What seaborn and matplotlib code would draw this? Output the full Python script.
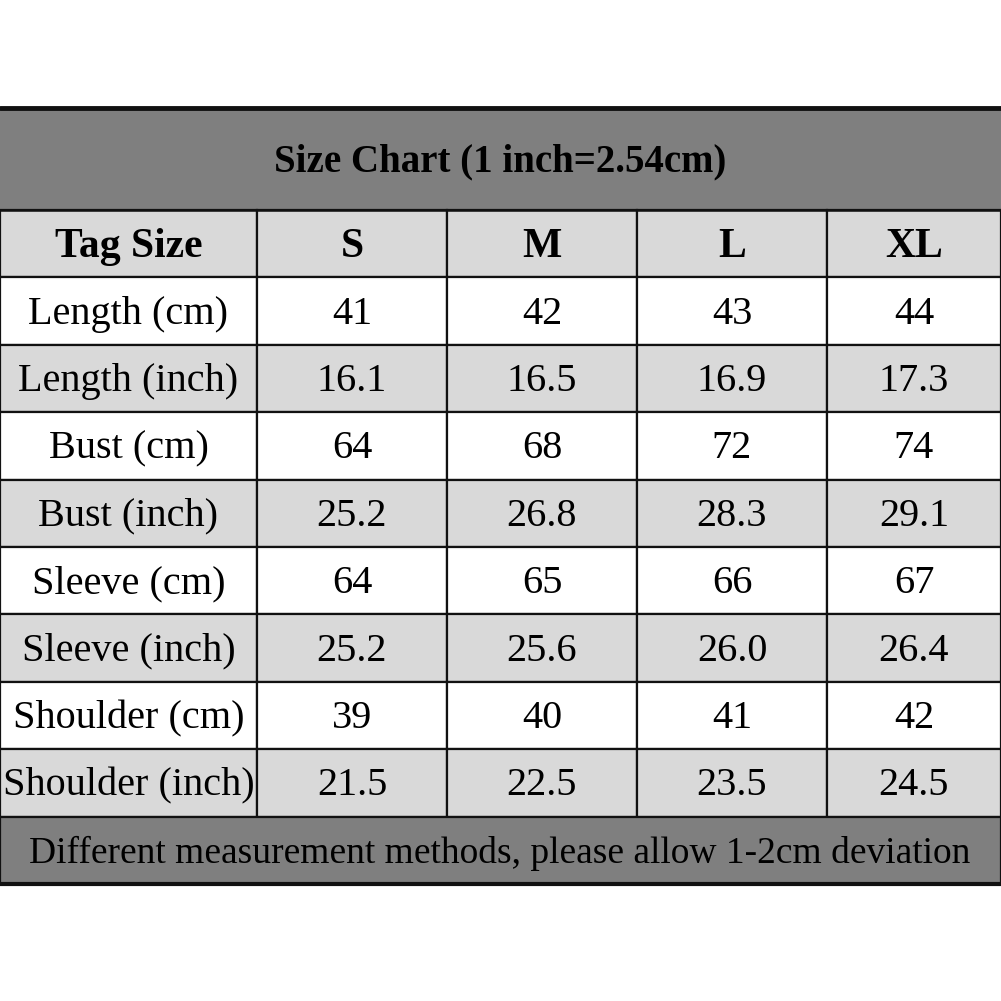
import matplotlib
matplotlib.use('Agg')
import matplotlib.pyplot as plt
from matplotlib.patches import Rectangle
import seaborn as sns

title = 'Size Chart (1 inch=2.54cm)'
footer = 'Different measurement methods, please allow 1-2cm deviation'
header = ['Tag Size', 'S', 'M', 'L', 'XL']
row_labels = ['Length (cm)', 'Length (inch)', 'Bust (cm)', 'Bust (inch)',
              'Sleeve (cm)', 'Sleeve (inch)', 'Shoulder (cm)', 'Shoulder (inch)']
values = [
    ['41', '42', '43', '44'],
    ['16.1', '16.5', '16.9', '17.3'],
    ['64', '68', '72', '74'],
    ['25.2', '26.8', '28.3', '29.1'],
    ['64', '65', '66', '67'],
    ['25.2', '25.6', '26.0', '26.4'],
    ['39', '40', '41', '42'],
    ['21.5', '22.5', '23.5', '24.5'],
]

sns.set_theme(style='white')
plt.rcParams['font.family'] = ['Liberation Serif', 'DejaVu Serif']
plt.rcParams['text.color'] = 'black'

fig = plt.figure(figsize=(10.01, 10.01), dpi=100)
ax = fig.add_axes([0, 0, 1, 1])
ax.set_xlim(0, 1001)
ax.set_ylim(1001, 0)
ax.axis('off')

col_x = [0, 257, 447, 637, 827, 1001]
top, title_h, row_h = 108, 102, 67.4
dark, light = '#7f7f7f', '#d9d9d9'

# title band
ax.add_patch(Rectangle((0, top), 1001, title_h, facecolor=dark, edgecolor='none'))
ax.text(500, top + title_h / 2 + 3, title, ha='center', va='center', fontsize=28,
        fontweight='bold', color='black')

y = top + title_h
rows = [header] + [[lab] + v for lab, v in zip(row_labels, values)]
for i, r in enumerate(rows):
    fc = light if i % 2 == 0 else 'white'
    for j, txt in enumerate(r):
        ax.add_patch(Rectangle((col_x[j], y), col_x[j + 1] - col_x[j], row_h,
                               facecolor=fc, edgecolor='#111111', lw=1.6))
        ax.text((col_x[j] + col_x[j + 1]) / 2, y + row_h / 2 + 3, txt, ha='center', va='center',
                fontsize=30 if i == 0 else 29, fontweight='bold' if i == 0 else 'normal',
                color='black')
    y += row_h

ax.add_patch(Rectangle((0, y), 1001, row_h, facecolor=dark, edgecolor='#111111', lw=1.6))
ax.text(500, y + row_h / 2 + 3, footer, ha='center', va='center', fontsize=27, color='black')
bottom = y + row_h

ax.plot([0, 1001], [top, top], color='#111111', lw=3.5)
ax.plot([0, 1001], [bottom, bottom], color='#111111', lw=3)
ax.plot([0, 1001], [top + title_h, top + title_h], color='#111111', lw=1.8)

fig.savefig('out.png', dpi=100, facecolor='white')
